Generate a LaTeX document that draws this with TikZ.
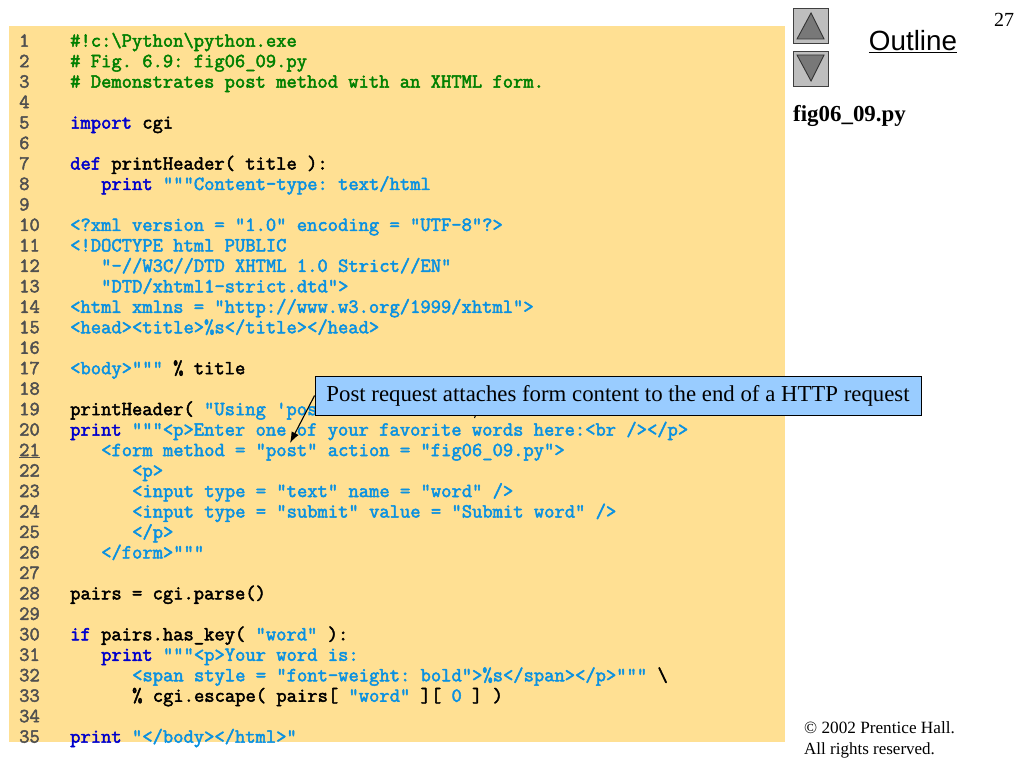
\documentclass[tikz,border=0pt]{standalone}
\usepackage{fontspec}
\setmainfont{Liberation Serif}
\newfontfamily\outlinefont{Liberation Sans}
\newfontfamily\codefont{Latin Modern Mono}[FakeBold=2.4]
\usepackage{tikz}
\usetikzlibrary{arrows.meta}
\definecolor{panelbg}{RGB}{255,224,147}
\definecolor{notebg}{RGB}{153,204,255}
\definecolor{numcol}{RGB}{80,80,80}
\definecolor{kwcol}{RGB}{0,0,204}
\definecolor{strcol}{RGB}{10,145,225}
\definecolor{cmcol}{RGB}{0,128,0}
\definecolor{btnbg}{RGB}{190,190,190}
\definecolor{btnarrow}{RGB}{120,120,120}
\newcommand{\kw}[1]{\textcolor{kwcol}{#1}}
\newcommand{\str}[1]{\textcolor{strcol}{#1}}
\newcommand{\cm}[1]{\textcolor{cmcol}{#1}}
\newcommand{\codeline}[3]{\node (code#1) [codetext] at (#2,{-46.7-(#1-1)*20.47}) {#3};}
\tikzset{
  codetext/.style={anchor=base west,inner sep=0pt,font=\codefont\fontsize{20}{20}\selectfont\frenchspacing},
  numtext/.style={codetext,text=numcol},
  navbtn/.style={draw=black!75,fill=btnbg,line width=0.9pt,minimum width=35pt,minimum height=35pt,inner sep=0pt},
  navarrow/.style={draw=black!80,fill=btnarrow,line width=0.9pt},
  sidetext/.style={anchor=base west,inner sep=0pt}
}
\begin{document}
\begin{tikzpicture}[x=1pt,y=1pt]
\useasboundingbox (0,0) rectangle (1024,-768);
\fill [panelbg] (9,-26) rectangle (785,-742);
\foreach \n in {1,...,35}
  \node (num\n) [numtext] at (19,{-46.7-(\n-1)*20.47}) {\ifnum\n=21 \underline{\n}\else\n\fi};
\codeline{1}{70}{\cm{\#!c:\textbackslash Python\textbackslash python.exe}}
\codeline{2}{70}{\cm{\# Fig. 6.9: fig06\_09.py}}
\codeline{3}{70}{\cm{\# Demonstrates post method with an XHTML form.}}
\codeline{5}{70}{\kw{import} cgi}
\codeline{7}{70}{\kw{def} printHeader( title ):}
\codeline{8}{101}{\kw{print} \str{"""Content-type: text/html}}
\codeline{10}{70}{\str{<?xml version = "1.0" encoding = "UTF-8"?>}}
\codeline{11}{70}{\str{<!DOCTYPE html PUBLIC}}
\codeline{12}{101}{\str{"-//W3C//DTD XHTML 1.0 Strict//EN"}}
\codeline{13}{101}{\str{"DTD/xhtml1-strict.dtd">}}
\codeline{14}{70}{\str{<html xmlns = "http://www.w3.org/1999/xhtml">}}
\codeline{15}{70}{\str{<head><title>\%s</title></head>}}
\codeline{17}{70}{\str{<body>"""} \% title}
\codeline{19}{70}{printHeader( \str{"Using 'pos}}
\codeline{20}{70}{\kw{print} \str{"""<p>Enter one of your favorite words here:<br /></p>}}
\codeline{21}{101}{\str{<form method = "post" action = "fig06\_09.py">}}
\codeline{22}{132}{\str{<p>}}
\codeline{23}{132}{\str{<input type = "text" name = "word" />}}
\codeline{24}{132}{\str{<input type = "submit" value = "Submit word" />}}
\codeline{25}{132}{\str{</p>}}
\codeline{26}{101}{\str{</form>"""}}
\codeline{28}{70}{pairs = cgi.parse()}
\codeline{30}{70}{\kw{if} pairs.has\_key( \str{"word"} ):}
\codeline{31}{101}{\kw{print} \str{"""<p>Your word is:}}
\codeline{32}{132}{\str{<span style = "font-weight: bold">\%s</span></p>"""} \textbackslash}
\codeline{33}{132}{\% cgi.escape( pairs[ \str{"word"} ][ \str{0} ] )}
\codeline{35}{70}{\kw{print} \str{"</body></html>"}}
\draw [black,line width=1pt] (476,-414) -- (474.5,-418);
\node (note) [draw=black,fill=notebg,line width=0.8pt,minimum width=606pt,minimum height=39pt,inner sep=0pt,text height=17pt,text depth=4.4pt,font=\fontsize{22.8}{24}\selectfont] at (618,-395.5) {Post request attaches form content to the end of a HTTP request};
\coordinate (notetip) at (290,-443);
\draw [-{Latex[length=11pt,width=8pt]},black,line width=1.1pt] (note.west) -- (notetip);
\node (btnup) [navbtn] at (810.5,-25.5) {};
\node (btndown) [navbtn] at (810.5,-68.5) {};
\draw [navarrow] (811,-13) -- (797,-39) -- (824,-39) -- cycle;
\draw [navarrow] (797,-55) -- (824,-55) -- (811,-81) -- cycle;
\node (outline) [inner sep=0pt,font=\outlinefont\fontsize{27.8}{30}\selectfont] at (913,-41.5) {\underline{Outline}};
\node (pagenum) [sidetext,font=\fontsize{20}{22}\selectfont] at (994,-26.5) {27};
\node (filename) [sidetext,font=\bfseries\fontsize{22.9}{24}\selectfont] at (793,-121) {fig06\_09.py};
\node (copy1) [sidetext,font=\fontsize{17.2}{20}\selectfont] at (804,-733) {© 2002 Prentice Hall.};
\node (copy2) [sidetext,font=\fontsize{17}{20}\selectfont] at (804,-754) {All rights reserved.};
\end{tikzpicture}
\end{document}
